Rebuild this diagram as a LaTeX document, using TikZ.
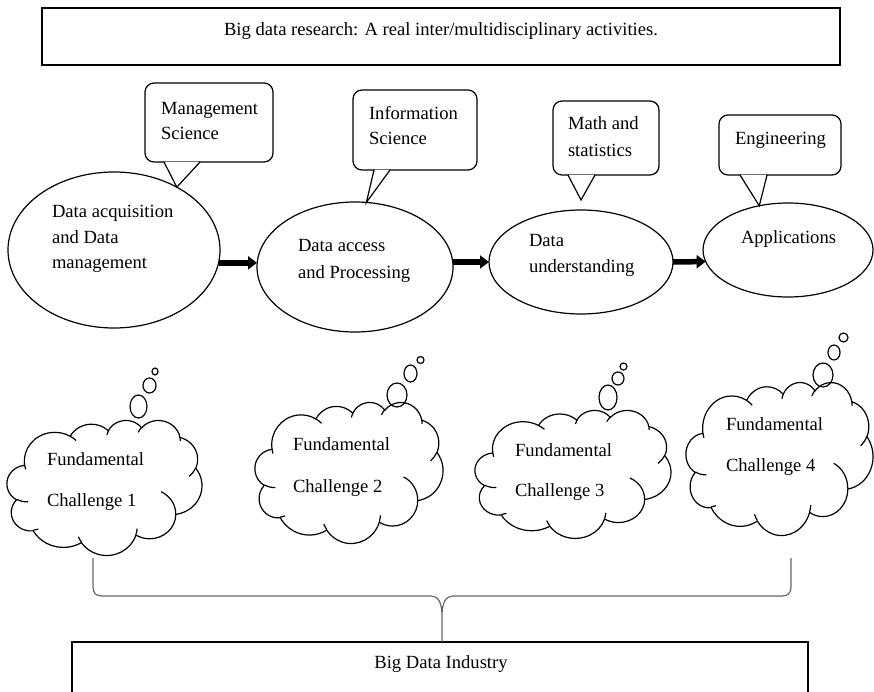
\documentclass[tikz,border=0pt]{standalone}
\usepackage{fontspec}
\setmainfont{Liberation Serif}
\usetikzlibrary{arrows.meta,shapes.geometric,calc}

% stacked lines of text whose base anchor is the first baseline
\newcommand\textlines[2]{\vtop{\baselineskip=#1\relax #2}}

% parametric start/end angles of an elliptic arc given by its visual start angle and sweep
\newcommand\cloudarc[4]{%
  \pgfmathsetmacro\cldA{atan2(#1*sin(#3), #2*cos(#3))}%
  \pgfmathsetmacro\cldC{atan2(#1*sin(#3+#4), #2*cos(#3+#4))}%
  \pgfmathsetmacro\cldB{ifthenelse(\cldC<\cldA, \cldC+360, \cldC)}%
  \global\let\cldA\cldA \global\let\cldB\cldB}

% thought cloud in a 4320 x 4320 box, placed at (left, top) with the given width and height
\newcommand\challengecloud[4]{%
  \pgfmathsetmacro\cldX{#3/4320}%
  \pgfmathsetmacro\cldY{#4/4320}%
  \begin{scope}[shift={(#1,#2)}, x=\cldX pt, y=-\cldY pt]
    \draw[cloudline] (390,1437)
      \foreach \rw/\rh/\sa/\sw in {
        675.3/919.0/-190.4875/123.7805, 533.3/726.7/-144.1024/89.9452,
        436.5/594.5/-145.8079/99.7230,  485.7/659.5/-130.9861/117.2417,
        533.3/727.3/-78.7089/109.0269,  677.5/922.0/-46.2673/130.2690,
        578.5/786.7/0.6250/114.0333,    675.2/921.5/22.4516/115.1726,
        772.0/1054.3/66.2426/75.7110,   436.0/591.8/-274.9421/146.7356,
        434.5/594.5/-246.8285/152.5189}{
        \pgfextra{\cloudarc{\rw}{\rh}{\sa}{\sw}}
        arc[start angle=\cldA, end angle=\cldB, x radius=\rw, y radius=\rh]
      } -- cycle;
    \foreach \px/\py/\rw/\rh/\sa/\sw in {
        469.3/2617.7/434.5/594.5/86.7420/26.4295,
        692.8/3489.9/436.0/591.8/73.6105/11.4475,
        1647.8/3909.0/675.2/921.5/137.6242/14.0811,
        2882.7/3475.1/675.2/921.5/6.4533/15.9984,
        3412.9/2295.4/578.5/786.7/-70.2924/70.9174,
        4179.8/1535.4/533.3/727.3/30.3180/27.7515,
        3832.4/542.6/485.7/659.5/-13.7443/14.8589,
        2907.8/395.2/485.7/659.5/-149.1815/18.1954,
        2214.1/472.0/436.5/594.5/-163.4943/17.6864,
        1400.0/519.2/675.3/919.0/-66.7070/12.3194,
        412.7/1578.9/675.3/919.0/157.6544/11.8582}{
      \cloudarc{\rw}{\rh}{\sa}{\sw}
      \draw[cloudline] (\px,\py) arc[start angle=\cldA, end angle=\cldB, x radius=\rw, y radius=\rh];
    }
  \end{scope}}

\begin{document}
\begin{tikzpicture}[x=1pt,y=-1pt,
  every node/.style={inner sep=0pt, outer sep=0pt},
  txt/.style={font=\fontsize{18.6}{25}\selectfont, anchor=base west},
  frame/.style={draw, rectangle, line width=1.3pt},
  stage/.style={draw, ellipse, line width=1.2pt},
  callbox/.style={draw, rectangle, rounded corners=9pt, line width=1.2pt},
  pointer/.style={line width=1.2pt, line join=miter},
  flow/.style={line width=5.5pt, -{Triangle[length=9pt,width=13pt]}},
  cloudline/.style={line width=1.2pt},
  bubble/.style={draw, ellipse, line width=1.2pt},
  bracket/.style={draw=black!60, line width=1.2pt}
]
\useasboundingbox (0,0) rectangle (874,692);
\clip (0,0) rectangle (874,692);

% heading
\node[frame, minimum width=798, minimum height=57, anchor=north west] (head) at (42,8) {};
\node[txt, anchor=base] (headtxt) at (441,36) {Big data research: A real inter/multidisciplinary activities.};

% pipeline stages
\node[stage, minimum width=212, minimum height=156] (e1) at (114,250) {};
\node[stage, minimum width=196, minimum height=130] (e2) at (355,267) {};
\node[stage, minimum width=184, minimum height=104] (e3) at (581,262) {};
\node[stage, minimum width=170, minimum height=94]  (e4) at (788,250) {};

\node[txt] (t1) at (52,218) {\textlines{25.5pt}{\hbox{Data acquisition}\hbox{and Data}\hbox{management}}};
\node[txt] (t2) at (298,252) {\textlines{26pt}{\hbox{Data access}\hbox{and Processing}}};
\node[txt] (t3) at (529,247) {\textlines{26pt}{\hbox{Data}\hbox{understanding}}};
\node[txt] (t4) at (741,244) {Applications};

% arrows between stages
\draw[flow] (e1.-7) -- (e1.-7 -| e2.west);
\draw[flow] (e2.east |- e3.west) -- (e3.west);
\draw[flow] (e3.east) -- (e4.188);

% discipline callouts
\node[callbox, minimum width=128, minimum height=79, anchor=north west] (c1) at (145,83) {};
\node[callbox, minimum width=124, minimum height=80, anchor=north west] (c2) at (353,90) {};
\node[callbox, minimum width=106, minimum height=74, anchor=north west] (c3) at (553,101) {};
\node[callbox, minimum width=122, minimum height=60, anchor=north west] (c4) at (719,115) {};

\coordinate (p1) at (e1.45);
\coordinate (p2) at (e2.80);
\coordinate (p3) at ($(e3.north)+(0,-10)$);
\coordinate (p4) at (e4.123);

\foreach \c/\p/\a/\b in {c1/p1/19/55, c2/p2/21/37, c3/p3/15/42, c4/p4/21/48}{
  \fill[white] ($(\c.south west)+(\a+0.8,-0.2)$) -- (\p) -- ($(\c.south west)+(\b-0.8,-0.2)$) -- cycle;
  \draw[pointer] ($(\c.south west)+(\a,0)$) -- (\p) -- ($(\c.south west)+(\b,0)$);
}

\node[txt] (ct1) at (161,115) {\textlines{25pt}{\hbox{Management}\hbox{Science}}};
\node[txt] (ct2) at (369,120) {\textlines{25pt}{\hbox{Information}\hbox{Science}}};
\node[txt] (ct3) at (568,130) {\textlines{27pt}{\hbox{Math and}\hbox{statistics}}};
\node[txt] (ct4) at (735,145) {Engineering};

% challenge clouds with their thought bubbles
\challengecloud{7}{420}{195}{135}
\challengecloud{255}{402}{188}{141}
\challengecloud{475}{410}{196}{128}
\challengecloud{686}{382}{187}{153}

\node[bubble, minimum width=17, minimum height=23] (b1a) at (138.5,406.5) {};
\node[bubble, minimum width=13, minimum height=15] (b1b) at (149.5,385.5) {};
\node[bubble, minimum width=6,  minimum height=7]  (b1c) at (155,371.5) {};
\node[bubble, minimum width=20, minimum height=24] (b2a) at (397,395) {};
\node[bubble, minimum width=13, minimum height=17] (b2b) at (410.5,373.5) {};
\node[bubble, minimum width=7,  minimum height=7]  (b2c) at (420.5,360) {};
\node[bubble, minimum width=18, minimum height=25] (b3a) at (608,397.5) {};
\node[bubble, minimum width=12, minimum height=13] (b3b) at (618,378.5) {};
\node[bubble, minimum width=7,  minimum height=7]  (b3c) at (623.5,366.5) {};
\node[bubble, minimum width=20, minimum height=24] (b4a) at (823,375) {};
\node[bubble, minimum width=12, minimum height=15] (b4b) at (834,352.5) {};
\node[bubble, minimum width=9,  minimum height=9]  (b4c) at (843.5,337.5) {};

\node[txt] (kt1) at (47,465)  {\textlines{41pt}{\hbox{Fundamental}\hbox{Challenge 1}}};
\node[txt] (kt2) at (293,450) {\textlines{42pt}{\hbox{Fundamental}\hbox{Challenge 2}}};
\node[txt] (kt3) at (515,456) {\textlines{40pt}{\hbox{Fundamental}\hbox{Challenge 3}}};
\node[txt] (kt4) at (726,430) {\textlines{41pt}{\hbox{Fundamental}\hbox{Challenge 4}}};

% industry box and the brace gathering the challenges
\node[frame, minimum width=736, minimum height=100, anchor=north west] (base) at (72,642) {};
\node[txt, anchor=base] (basetxt) at (441,668) {Big Data Industry};

\coordinate (tip) at (base.north -| 442,0);
\draw[bracket] (93,558) -- (93,587) .. controls (93,593) and (96,596) .. (102,596)
  -- (431,596) .. controls (438,596) and (442,602) .. (442,616) -- (tip)
  (442,616) .. controls (442,602) and (446,596) .. (453,596)
  -- (782,596) .. controls (788,596) and (791,593) .. (791,587) -- (791,558);
\end{tikzpicture}
\end{document}
